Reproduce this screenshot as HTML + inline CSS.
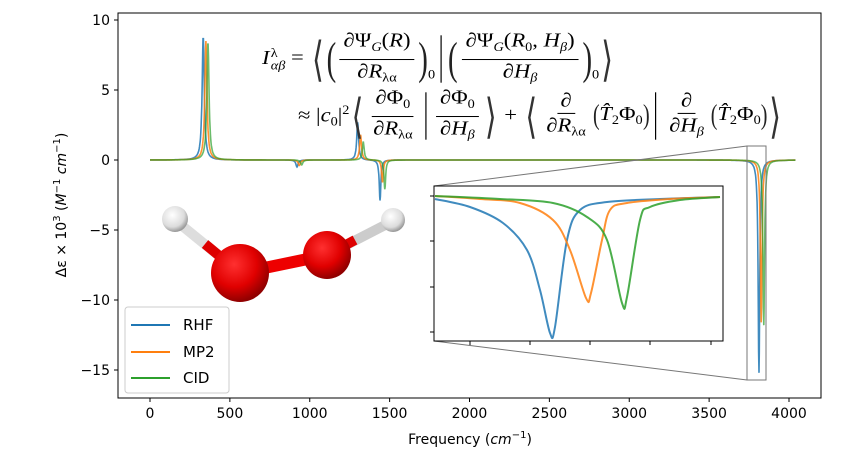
<!DOCTYPE html><html><head><meta charset="utf-8"><style>
body{margin:0;background:#fff;width:864px;height:465px;overflow:hidden;font-family:"DejaVu Sans",sans-serif}
.eq{position:absolute;font-family:"Liberation Serif",serif;font-size:19px;color:#000;white-space:nowrap;display:flex;align-items:center;height:56px;transform-origin:0 50%;transform:scale(1.19,1.03)}
.t{display:inline-block;white-space:nowrap}
.fr{display:inline-flex;flex-direction:column;align-items:center;margin:0 3px}
.fr>span:first-child{border-bottom:1px solid #000;padding:0 3px;line-height:23px}
.fr>span:last-child{line-height:23px;padding:0 3px}
.b{font-size:46px;transform:scaleX(0.55);display:inline-block;line-height:50px;font-weight:normal;color:#333;font-family:"DejaVu Sans",sans-serif;margin:0 -2px}
.p{font-size:44px;transform:scaleX(0.55);display:inline-block;line-height:50px;color:#222;margin:0 -3px}
.ps{font-size:28px;transform:scaleX(0.6);display:inline-block;color:#222;margin:0 -2px}
.s{font-size:12px}
sub.s{vertical-align:-4px}
.bar{display:inline-block;width:1px;height:46px;background:#000;margin:0 5px}
</style></head><body>
<svg id="s" width="864" height="465" style="position:absolute;left:0;top:0" font-family="DejaVu Sans, sans-serif">
<defs>
<radialGradient id="rO" cx="0.4" cy="0.35" r="0.65"><stop offset="0" stop-color="#ff3030"/><stop offset="0.6" stop-color="#e00000"/><stop offset="1" stop-color="#900000"/></radialGradient>
<radialGradient id="rH" cx="0.4" cy="0.35" r="0.65"><stop offset="0" stop-color="#ffffff"/><stop offset="0.7" stop-color="#dcdcdc"/><stop offset="1" stop-color="#999"/></radialGradient>
</defs>
<g id="g"></g>
</svg>
<div class="eq" style="left:262px;top:31px"><span class="t"><i>I</i></span><span style="display:inline-flex;flex-direction:column;font-size:12px;line-height:12px;margin-left:1px"><span>λ</span><i>αβ</i></span><span class="t">&nbsp;=&nbsp;</span><span class="b">⟨</span><span class="p">(</span><span class="fr"><span>∂Ψ<sub class="s"><i>G</i></sub>(<i>R</i>)</span><span>∂<i>R</i><sub class="s">λα</sub></span></span><span class="p">)</span><span class="t s" style="margin-top:30px">0</span><span class="bar"></span><span class="p">(</span><span class="fr"><span>∂Ψ<sub class="s"><i>G</i></sub>(<i>R</i><sub class="s">0</sub>, <i>H</i><sub class="s"><i>β</i></sub>)</span><span>∂<i>H</i><sub class="s"><i>β</i></sub></span></span><span class="p">)</span><span class="t s" style="margin-top:30px">0</span><span class="b">⟩</span></div>
<div class="eq" style="left:298px;top:88px"><span class="t">≈&nbsp;|<i>c</i><sub class="s">0</sub>|<sup class="s">2</sup></span><span class="b">⟨</span><span class="fr"><span>∂Φ<sub class="s">0</sub></span><span>∂<i>R</i><sub class="s">λα</sub></span></span><span class="bar"></span><span class="fr"><span>∂Φ<sub class="s">0</sub></span><span>∂<i>H</i><sub class="s"><i>β</i></sub></span></span><span class="b">⟩</span><span class="t">&nbsp;+&nbsp;</span><span class="b">⟨</span><span class="fr"><span>∂</span><span>∂<i>R</i><sub class="s">λα</sub></span></span><span class="ps">(</span><span class="t"><i>T̂</i><sub class="s">2</sub>Φ<sub class="s">0</sub></span><span class="ps">)</span><span class="bar"></span><span class="fr"><span>∂</span><span>∂<i>H</i><sub class="s"><i>β</i></sub></span></span><span class="ps">(</span><span class="t"><i>T̂</i><sub class="s">2</sub>Φ<sub class="s">0</sub></span><span class="ps">)</span><span class="b">⟩</span></div>
<script>
const g=document.getElementById('g');let h='';
const X=f=>150+f*0.15975, Y=v=>160-v*14;
const L=(x,c,gm,a)=>a/(1+((x-c)/gm)**2);
const S={
RHF:{col:'#1f77b4',p:[[333,8.8,8],[920,-0.5,8],[1300,2.7,7],[1440,-2.9,6],[3812,-15.2,6]]},
MP2:{col:'#ff7f0e',p:[[350,8.5,8],[935,-0.4,8],[1318,1.8,7],[1455,-1.6,6],[3826,-11.6,6]]},
CID:{col:'#2ca02c',p:[[363,8.4,8],[950,-0.35,8],[1335,1.3,7],[1470,-2.1,6],[3842,-11.8,6]]}};
function val(s,f){let v=0;for(const p of s.p)v+=L(f,p[0],p[2],p[1]);return v;}
h+='<rect x="118" y="13" width="703" height="385" fill="none" stroke="#000" stroke-width="1"/>';
for(const k of ['RHF','MP2','CID']){const s=S[k];let d='';for(let f=0;f<=4040;f+=2){d+=(f?'L':'M')+X(f).toFixed(1)+','+Y(val(s,f)).toFixed(1);}
h+=`<path d="${d}" fill="none" stroke="${s.col}" stroke-width="1.6" stroke-opacity="${k=='CID'?0.7:0.85}"/>`;}
for(let f=0;f<=4000;f+=500){const x=X(f);h+=`<line x1="${x}" y1="398" x2="${x}" y2="402" stroke="#000"/><text x="${x}" y="418" font-size="14" text-anchor="middle">${f}</text>`;}
for(const v of [10,5,0,-5,-10,-15]){const y=Y(v);h+=`<line x1="114" y1="${y}" x2="118" y2="${y}" stroke="#000"/><text x="110" y="${y+5}" font-size="14" text-anchor="end">${v<0?'−'+(-v):v}</text>`;}
h+='<text x="470" y="444" font-size="14" text-anchor="middle">Frequency (<tspan font-style="italic">cm</tspan><tspan dy="-6" font-size="10">−1</tspan><tspan dy="6">)</tspan></text>';
h+='<text transform="translate(66,205) rotate(-90)" font-size="14" text-anchor="middle">Δε × 10<tspan dy="-6" font-size="10">3</tspan><tspan dy="6"> (</tspan><tspan font-style="italic">M</tspan><tspan dy="-6" font-size="10">−1</tspan><tspan dy="6" font-style="italic"> cm</tspan><tspan dy="-6" font-size="10">−1</tspan><tspan dy="6">)</tspan></text>';
h+='<rect x="747" y="146" width="19" height="234" fill="none" stroke="#777" stroke-width="1"/>';
h+='<line x1="434" y1="186" x2="747" y2="146" stroke="#777"/><line x1="434" y1="341" x2="747" y2="380" stroke="#777"/>';
h+='<rect x="434" y="186" width="289" height="155" fill="#fff" stroke="#000"/>';
function cr(P){let d='M'+P[0][0]+','+P[0][1];for(let i=0;i<P.length-1;i++){const p0=P[Math.max(0,i-1)],p1=P[i],p2=P[i+1],p3=P[Math.min(P.length-1,i+2)];const c1=[p1[0]+(p2[0]-p0[0])/6,p1[1]+(p2[1]-p0[1])/6],c2=[p2[0]-(p3[0]-p1[0])/6,p2[1]-(p3[1]-p1[1])/6];d+=`C${c1[0].toFixed(1)},${c1[1].toFixed(1)} ${c2[0].toFixed(1)},${c2[1].toFixed(1)} ${p2[0]},${p2[1]}`;}return d;}
const ins=[
['#1f77b4',[[435,199],[470,207],[503,223],[527,250],[540,290],[550,333],[555,327],[567,240],[580,210],[607,202],[660,199],[720,197]]],
['#ff7f0e',[[435,196],[480,199],[520,203],[553,220],[570,250],[586,298],[591,293],[602,240],[610,210],[627,203],[670,199],[720,197]]],
['#2ca02c',[[435,196],[500,199],[553,203],[587,217],[607,240],[622,303],[627,297],[640,220],[650,207],[680,200],[720,197]]]];
for(const [c,P] of ins)h+=`<path d="${cr(P)}" fill="none" stroke="${c}" stroke-width="2" stroke-opacity="0.85"/>`;
for(const y of [196,241,287,332])h+=`<line x1="430" y1="${y}" x2="434" y2="${y}" stroke="#000"/>`;
for(const x of [470,530,590,650,711])h+=`<line x1="${x}" y1="341" x2="${x}" y2="345" stroke="#000"/>`;
h+='<line x1="175" y1="220" x2="240" y2="273" stroke="#ddd" stroke-width="10"/><line x1="205" y1="244" x2="240" y2="273" stroke="#d00" stroke-width="10"/>';
h+='<line x1="393" y1="221" x2="327" y2="255" stroke="#ccc" stroke-width="10"/><line x1="355" y1="240" x2="327" y2="255" stroke="#d00" stroke-width="10"/>';
h+='<line x1="240" y1="273" x2="327" y2="255" stroke="#e00" stroke-width="12"/>';
h+='<circle cx="175" cy="219" r="13" fill="url(#rH)"/><circle cx="393" cy="220" r="12" fill="url(#rH)"/>';
h+='<circle cx="327" cy="255" r="24" fill="url(#rO)"/><circle cx="240" cy="273" r="29" fill="url(#rO)"/>';
h+='<rect x="125" y="307" width="104" height="86" rx="3" fill="#fff" fill-opacity="0.85" stroke="#ccc"/>';
[['RHF','#1f77b4',330],['MP2','#ff7f0e',357],['CID','#2ca02c',383]].forEach(([t,c,y])=>{h+=`<line x1="131" y1="${y-5}" x2="170" y2="${y-5}" stroke="${c}" stroke-width="2"/><text x="183" y="${y}" font-size="15">${t}</text>`;});
g.innerHTML=h;
</script>
</body></html>
